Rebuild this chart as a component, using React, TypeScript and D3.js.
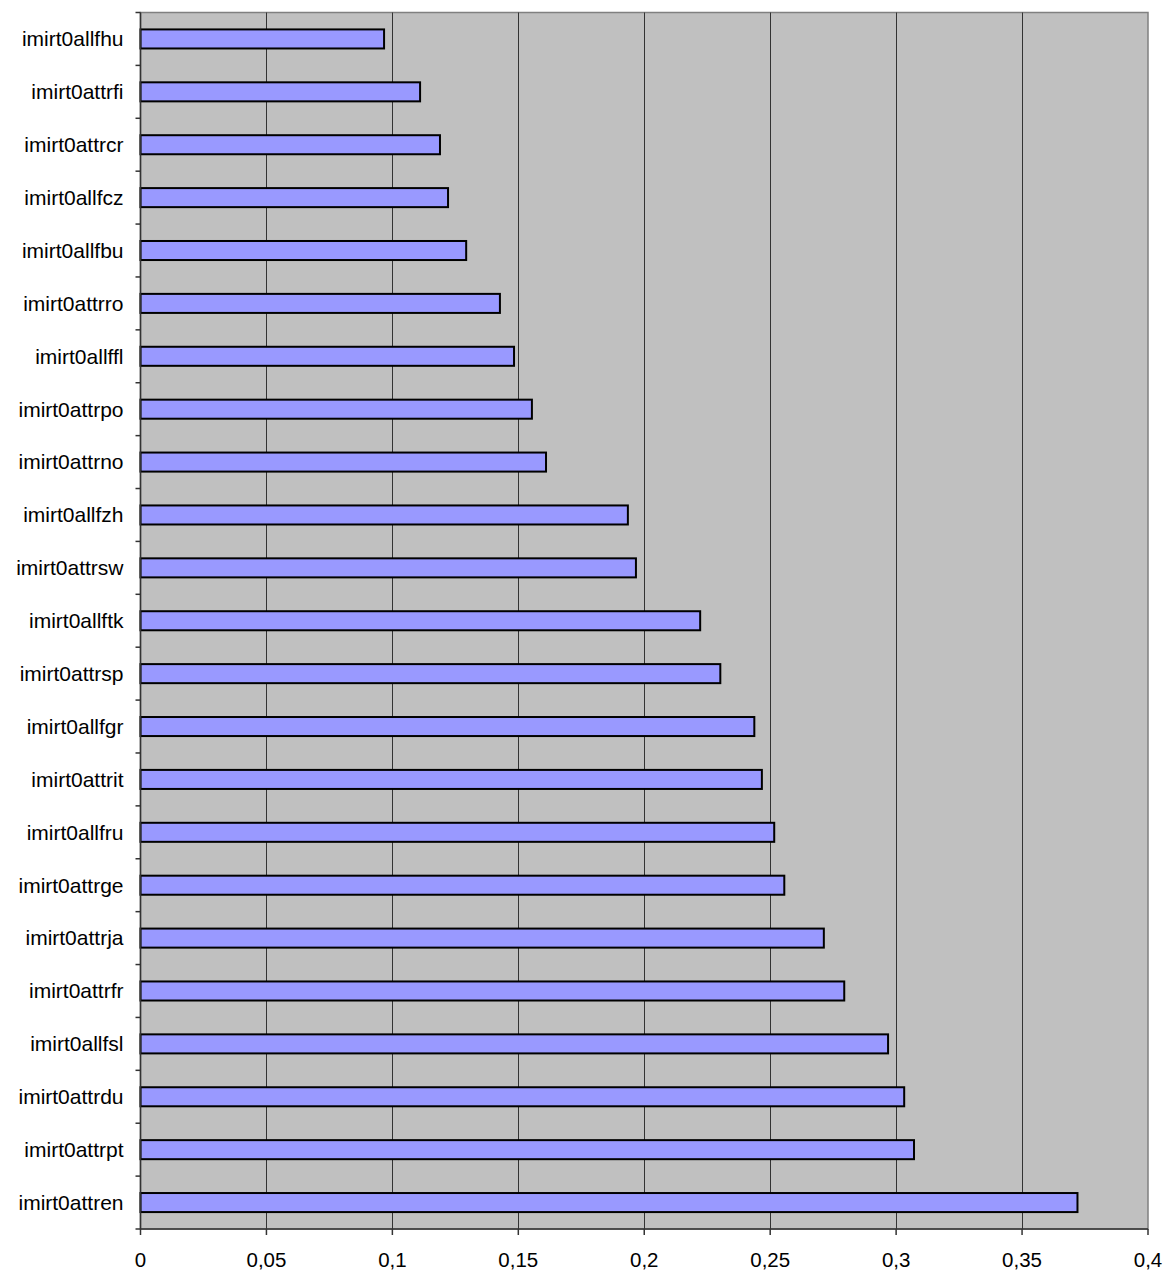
import React from "react";
import * as d3 from "d3";

const categories = [
  "imirt0allfhu", "imirt0attrfi", "imirt0attrcr", "imirt0allfcz", "imirt0allfbu",
  "imirt0attrro", "imirt0allffl", "imirt0attrpo", "imirt0attrno", "imirt0allfzh",
  "imirt0attrsw", "imirt0allftk", "imirt0attrsp", "imirt0allfgr", "imirt0attrit",
  "imirt0allfru", "imirt0attrge", "imirt0attrja", "imirt0attrfr", "imirt0allfsl",
  "imirt0attrdu", "imirt0attrpt", "imirt0attren",
];
const values = [
  0.0967, 0.111, 0.1189, 0.1221, 0.1293,
  0.1427, 0.1483, 0.1554, 0.161, 0.1935,
  0.1967, 0.2222, 0.2302, 0.2437, 0.2467,
  0.2516, 0.2556, 0.2713, 0.2794, 0.2968,
  0.3032, 0.3071, 0.372,
];
const xTicks = [0, 0.05, 0.1, 0.15, 0.2, 0.25, 0.3, 0.35, 0.4];

const W = 1173;
const H = 1273;
const L = 140.5, R = 1148, T = 12.5, B = 1229;

export default function App() {
  const x = d3.scaleLinear().domain([0, 0.4]).range([L, R]);
  const y = d3.scaleBand<string>().domain(categories).range([T, B]).paddingInner(0.64).paddingOuter(0.32);
  const band = (B - T) / categories.length;
  const fmt = (v: number) => String(v).replace(".", ",");
  const font = "Liberation Sans, Arial, sans-serif";
  return (
    <div style={{ position: "absolute", left: 0, top: 0 }}>
      <svg width={W} height={H} style={{ display: "block", background: "#fff" }}>
        <rect x={L} y={T} width={R - L} height={B - T} fill="#c0c0c0" stroke="#808080" strokeWidth={1.5} />
        {xTicks.slice(1, -1).map((t) => (
          <line key={"g" + t} x1={Math.round(x(t)) + 0.5} x2={Math.round(x(t)) + 0.5} y1={T} y2={B} stroke="#333" strokeWidth={1} />
        ))}
        {categories.map((c, i) => (
          <rect key={c} x={x(0)} y={y(c)!} width={x(values[i]) - x(0)} height={y.bandwidth()}
            fill="#9999ff" stroke="#000" strokeWidth={2} />
        ))}
        <line x1={L} x2={L} y1={T} y2={B} stroke="#333" strokeWidth={1.5} />
        <line x1={L} x2={R} y1={B} y2={B} stroke="#333" strokeWidth={1.5} />
        {d3.range(categories.length + 1).map((i) => (
          <line key={"yt" + i} x1={L - 5} x2={L} y1={T + i * band} y2={T + i * band} stroke="#333" strokeWidth={1.5} />
        ))}
        {xTicks.map((t) => (
          <line key={"xt" + t} x1={x(t)} x2={x(t)} y1={B} y2={B + 6} stroke="#333" strokeWidth={1.5} />
        ))}
        {categories.map((c) => (
          <text key={"l" + c} x={123.5} y={y(c)! + y.bandwidth() / 2} dy="0.35em" textAnchor="end"
            fontFamily={font} fontSize={21} fill="#000">{c}</text>
        ))}
        {xTicks.map((t) => (
          <text key={"xl" + t} x={x(t)} y={1267} textAnchor="middle" fontFamily={font} fontSize={20.5} fill="#000">{fmt(t)}</text>
        ))}
      </svg>
    </div>
  );
}
